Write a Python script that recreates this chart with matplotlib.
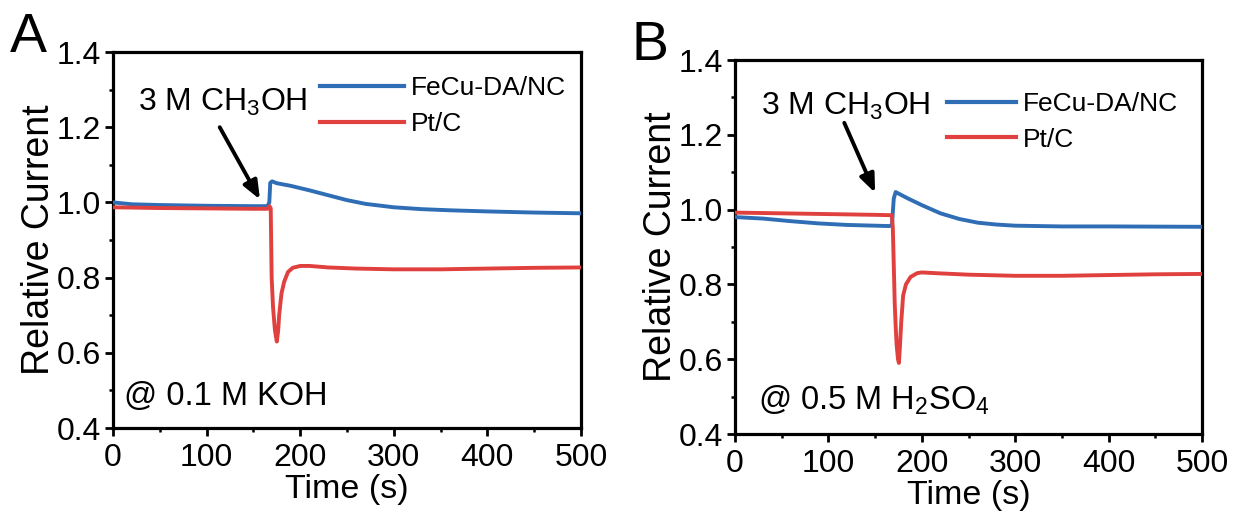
import matplotlib
matplotlib.use("Agg")
import matplotlib.pyplot as plt
from matplotlib.ticker import MultipleLocator

plt.rcParams['font.family'] = ['Liberation Sans', 'DejaVu Sans']
plt.rcParams['mathtext.fontset'] = 'custom'
plt.rcParams['mathtext.rm'] = 'Liberation Sans'
plt.rcParams['mathtext.it'] = 'Liberation Sans'
plt.rcParams['mathtext.default'] = 'regular'

# ---- Panel A (0.1 M KOH) ----
a_fecu_t = [0, 20, 50, 100, 150, 165, 167, 168, 170, 175, 190, 210, 230, 250, 270, 300, 330, 360, 400, 450, 500]
a_fecu_v = [1.000, 0.995, 0.993, 0.991, 0.990, 0.990, 1.000, 1.052, 1.056, 1.051, 1.044, 1.032, 1.019, 1.006, 0.996, 0.987, 0.982, 0.979, 0.976, 0.973, 0.971]
a_pt_t = [0, 50, 100, 150, 165, 167, 168.5, 169.5, 171, 173, 175, 176.5, 177.5, 180, 183, 187, 192, 200, 210, 230, 260, 300, 350, 400, 450, 500]
a_pt_v = [0.987, 0.985, 0.984, 0.983, 0.983, 0.990, 0.985, 0.800, 0.720, 0.660, 0.630, 0.660, 0.700, 0.758, 0.790, 0.815, 0.826, 0.831, 0.831, 0.827, 0.824, 0.822, 0.822, 0.824, 0.826, 0.827]

# ---- Panel B (0.5 M H2SO4) ----
b_fecu_t = [0, 30, 60, 90, 120, 150, 165, 168, 170, 172, 175, 185, 200, 220, 240, 260, 280, 300, 350, 400, 500]
b_fecu_v = [0.980, 0.976, 0.969, 0.963, 0.959, 0.957, 0.956, 0.958, 1.030, 1.047, 1.043, 1.030, 1.012, 0.990, 0.975, 0.965, 0.960, 0.957, 0.955, 0.955, 0.954]
b_pt_t = [0, 50, 100, 150, 168, 169, 170, 171, 172, 173, 174.5, 175.5, 176.5, 178, 180, 183, 188, 195, 200, 215, 250, 300, 350, 400, 450, 500]
b_pt_v = [0.992, 0.990, 0.988, 0.986, 0.985, 0.950, 0.850, 0.750, 0.690, 0.640, 0.600, 0.590, 0.630, 0.700, 0.770, 0.800, 0.820, 0.830, 0.832, 0.830, 0.826, 0.823, 0.823, 0.825, 0.827, 0.828]

series_labels = ['FeCu-DA/NC', 'Pt/C']
x_ticks = [0, 100, 200, 300, 400, 500]
y_ticks = [0.4, 0.6, 0.8, 1.0, 1.2, 1.4]
blue = '#2f6db5'
red = '#e0403e'

fig = plt.figure(figsize=(12.33, 5.12), dpi=100)
axA = fig.add_axes([113/1233, 1-428/512, 468/1233, 376/512])
axB = fig.add_axes([735/1233, 1-434/512, 467/1233, 374/512])

panels = [
    (axA, a_fecu_t, a_fecu_v, a_pt_t, a_pt_v, '@ 0.1 M KOH',
     (0.442, 0.935), 3.2, (114, 1.20), (157, 1.008), (27, 1.243), (12, 0.461), 0),
    (axB, b_fecu_t, b_fecu_v, b_pt_t, b_pt_v, '@ 0.5 M H$_2$SO$_4$',
     (0.455, 0.915), 2.6, (117, 1.232), (150, 1.045), (28, 1.253), (25, 0.464), 0),
]

for (ax, ft, fv, pt, pv, cond, legpos, hl, tail, head, txtpos, condpos, ylpad) in panels:
    ax.plot(ft, fv, color=blue, lw=2.8, label=series_labels[0], zorder=3)
    ax.plot(pt, pv, color=red, lw=2.8, label=series_labels[1], zorder=4)
    ax.set_xlim(0, 500)
    ax.set_ylim(0.4, 1.4)
    ax.set_xticks(x_ticks)
    ax.set_yticks(y_ticks)
    ax.set_yticklabels(['%.1f' % v for v in y_ticks])
    ax.xaxis.set_minor_locator(MultipleLocator(50))
    ax.yaxis.set_minor_locator(MultipleLocator(0.1))
    ax.tick_params(which='major', direction='out', length=5.5, width=2, labelsize=23, pad=3)
    ax.tick_params(axis='x', which='major', pad=5)
    ax.tick_params(which='minor', direction='out', length=3, width=1.8)
    for s in ax.spines.values():
        s.set_linewidth(2.3)
    ax.set_xlabel('Time (s)', fontsize=24.5, labelpad=1)
    ax.set_ylabel('Relative Current', fontsize=27, labelpad=ylpad)
    leg = ax.legend(loc='upper left', bbox_to_anchor=legpos, frameon=False, fontsize=19,
                    handlelength=hl, handletextpad=0.25, labelspacing=0.45, borderaxespad=0,
                    borderpad=0)
    for line in leg.get_lines():
        line.set_linewidth(3)
    ax.annotate('', xy=head, xytext=tail,
                arrowprops=dict(arrowstyle='-|>,head_length=1.1,head_width=0.45', color='black',
                                lw=2.8, shrinkA=0, shrinkB=0))
    ax.text(txtpos[0], txtpos[1], '3 M CH$_3$OH', fontsize=23, va='baseline', ha='left')
    ax.text(condpos[0], condpos[1], cond, fontsize=23.5, va='baseline', ha='left')

fig.text(10/1233, 1-52/512, 'A', fontsize=40, va='baseline', ha='left')
fig.text(632/1233, 1-60/512, 'B', fontsize=40, va='baseline', ha='left')

fig.savefig('out.png', dpi=100)
